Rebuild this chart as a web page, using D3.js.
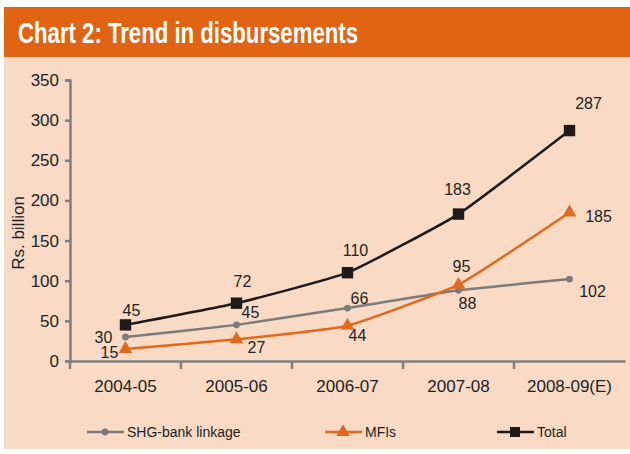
<!DOCTYPE html>
<html>
<head>
<meta charset="utf-8">
<title>Chart 2: Trend in disbursements</title>
<script src="https://cdn.jsdelivr.net/npm/d3@7"></script>
<style>
  body { margin: 0; background: #fff; }
  text { font-family: "Liberation Sans", Arial, sans-serif; fill: #231f20; }
</style>
</head>
<body>
<script>
// data (Rs. billion)
var years = ["2004-05", "2005-06", "2006-07", "2007-08", "2008-09(E)"];
var shg = [30, 45, 66, 88, 102];
var mfi = [15, 27, 44, 95, 185];
var total = [45, 72, 110, 183, 287];
var yTicks = [0, 50, 100, 150, 200, 250, 300, 350];

// hand placed label offsets (dx, dy) like in the original
var shgOff = [[-22, 0], [14, -12], [12, -10], [9, 13], [23, 12]];
var mfiOff = [[-16, 3], [20, 8], [10, 10], [3, -18], [29, 4]];
var totOff = [[6, -14], [6, -22], [8, -22], [-1, -25], [19, -27]];

var W = 630, H = 454;
var svg = d3.select("body").append("svg").attr("width", W).attr("height", H);

// panel + title bar
svg.append("rect").attr("x", 4).attr("y", 57).attr("width", W - 4).attr("height", 392).attr("fill", "#f9dac5");
svg.append("rect").attr("x", 4).attr("y", 7).attr("width", W - 4).attr("height", 50).attr("fill", "#e06412");
svg.append("text").text("Chart 2: Trend in disbursements")
    .attr("x", 18).attr("y", 43)
    .attr("textLength", 340).attr("lengthAdjust", "spacingAndGlyphs")
    .style("font-family", "'Liberation Sans Narrow', 'Liberation Sans', sans-serif")
    .style("font-weight", "bold").style("font-size", "30px").style("fill", "#fff");

var x = d3.scaleBand().domain(years).range([70, 625]);
var y = d3.scaleLinear().domain([0, 350]).range([361, 80]);
var cx = d => x(d) + x.bandwidth() / 2;

// axes
var gx = svg.append("g").attr("transform", "translate(0,361)")
    .call(d3.axisBottom(x).tickSize(0).tickPadding(18));
gx.select(".domain").attr("stroke", "#7f7f7f").attr("stroke-width", 2.5);
gx.selectAll("text").style("font-size", "17px").attr("dy", "0.71em").attr("y", 19);
// category boundary ticks
svg.append("g").selectAll("line").data(years).enter().append("line")
    .attr("x1", d => x(d)).attr("x2", d => x(d))
    .attr("y1", 361).attr("y2", 369)
    .attr("stroke", "#7f7f7f").attr("stroke-width", 2.5);

var gy = svg.append("g").attr("transform", "translate(70,0)")
    .call(d3.axisLeft(y).tickValues(yTicks).tickSize(5).tickPadding(6));
gy.select(".domain").attr("stroke", "#7f7f7f").attr("stroke-width", 2.5);
gy.selectAll(".tick line").attr("stroke", "#7f7f7f").attr("stroke-width", 2.5);
gy.selectAll("text").style("font-size", "17px").style("fill", "#231f20");

svg.append("text").text("Rs. billion")
    .attr("transform", "translate(24,233) rotate(-90)")
    .attr("text-anchor", "middle").style("font-size", "17px");

var line = d3.line().x((d, i) => cx(years[i])).y(d => y(d)).curve(d3.curveCardinal.tension(0.6));

var series = [
  { vals: shg, off: shgOff, color: "#7b7b7b", sym: d3.symbolCircle, size: 36 },
  { vals: mfi, off: mfiOff, color: "#e2691c", sym: d3.symbolTriangle, size: 80 },
  { vals: total, off: totOff, color: "#1e1a1a", sym: d3.symbolSquare, size: 130 }
];

series.forEach(function (s) {
  svg.append("path").datum(s.vals).attr("d", line)
      .attr("fill", "none").attr("stroke", s.color).attr("stroke-width", 2.5);
  svg.append("g").selectAll("path").data(s.vals).enter().append("path")
      .attr("d", d3.symbol().type(s.sym).size(s.size))
      .attr("transform", (d, i) => "translate(" + cx(years[i]) + "," + y(d) + ")")
      .attr("fill", s.color);
  svg.append("g").selectAll("text").data(s.vals).enter().append("text")
      .text(d => d)
      .attr("x", (d, i) => cx(years[i]) + s.off[i][0])
      .attr("y", (d, i) => y(d) + s.off[i][1])
      .attr("dy", "0.35em")
      .attr("text-anchor", "middle")
      .style("font-size", "16px");
});

// legend
var legend = [
  { name: "SHG-bank linkage", x: 87, s: series[0], size: 36 },
  { name: "MFIs", x: 325, s: series[1], size: 80 },
  { name: "Total", x: 497, s: series[2], size: 100 }
];
var lg = svg.append("g").selectAll("g").data(legend).enter().append("g")
    .attr("transform", d => "translate(" + d.x + ",432)");
lg.append("line").attr("x1", 0).attr("x2", 37)
    .attr("stroke", d => d.s.color).attr("stroke-width", 2.5);
lg.append("path").attr("transform", "translate(18,0)")
    .attr("d", d => d3.symbol().type(d.s.sym).size(d.size)())
    .attr("fill", d => d.s.color);
lg.append("text").text(d => d.name).attr("x", 40).attr("dy", "0.35em")
    .style("font-size", "14px");
</script>
</body>
</html>
